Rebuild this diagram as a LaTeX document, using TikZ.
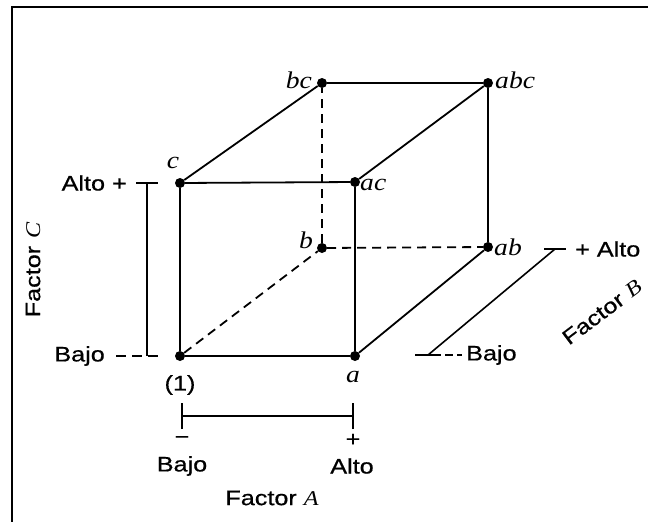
\documentclass[tikz,border=0pt]{standalone}
\usepackage{fontspec}
\setmainfont{Liberation Serif}[FakeStretch=1.15]
\setsansfont{Liberation Sans}[FakeStretch=1.2, FakeBold=0.6]
\usetikzlibrary{positioning}

\begin{document}
\begin{tikzpicture}[x=1pt, y=-1pt,
  every node/.style={font=\sffamily\fontsize{21}{23}\selectfont, inner sep=0pt},
  arista/.style={line width=1.8pt},
  oculta/.style={line width=1.8pt, dash pattern=on 9pt off 6pt},
  escala/.style={line width=1.6pt},
  vertice/.style={circle, fill=black, minimum size=10pt, inner sep=0pt},
  etiq/.style={font=\rmfamily\itshape\fontsize{24}{26}\selectfont}]
  \useasboundingbox (0,0) rectangle (648,522);

  % Marco
  \draw[line width=2pt] (12,7) rectangle (662,540);

  % Vertices del cubo
  \node[vertice] (v1)  at (180,356) {};
  \node[vertice] (va)  at (355,356) {};
  \node[vertice] (vc)  at (180,183) {};
  \node[vertice] (vac) at (355,182) {};
  \node[vertice] (vb)  at (322,248) {};
  \node[vertice] (vab) at (488,247) {};
  \node[vertice] (vbc) at (322,83) {};
  \node[vertice] (vabc) at (488,83) {};

  % Aristas visibles
  \draw[arista] (v1) -- (va);
  \draw[arista] (v1) -- (vc);
  \draw[arista] (vc) -- (vac);
  \draw[arista] (va) -- (vac);
  \draw[arista] (vc) -- (vbc);
  \draw[arista] (vbc) -- (vabc);
  \draw[arista] (vac) -- (vabc);
  \draw[arista] (vabc) -- (vab);
  \draw[arista] (va) -- (vab);

  % Aristas ocultas
  \draw[oculta] (v1) -- (vb);
  \draw[oculta] (vb) -- (vbc);
  \draw[oculta] (vb) -- (vab);

  % Etiquetas de los tratamientos
  \node[etiq, anchor=east] (lbc) at (312,80) {bc};
  \node[etiq, anchor=west] (labc) at (495,80) {abc};
  \node[etiq] (lc) at (173,163) {c};
  \node[etiq, anchor=west] (lac) at (360,185) {ac};
  \node[etiq, anchor=east] (lb) at (313,240) {b};
  \node[etiq, anchor=west] (lab) at (494,247) {ab};
  \node (l1) at (180,385) {(1)};
  \node[etiq] (la) at (353,377) {a};

  % Factor C
  \coordinate (cAlto) at (147,183);
  \coordinate (cBajo) at (147,356);
  \draw[escala] (cAlto) -- (cBajo);
  \draw[escala] ([xshift=-11pt]cAlto) -- ([xshift=11pt]cAlto);
  \node[anchor=east] (altoC) at (127,183) {Alto +};
  \node[anchor=east] (bajoC) at (105,356) {Bajo};
  \coordinate (cGuion) at (116,356);
  \draw[escala, dash pattern=on 10pt off 6pt] (cGuion) -- ([xshift=11pt]cBajo);
  \node[rotate=90] (factorC) at (33,270) {Factor {\rmfamily\itshape C}};

  % Factor A
  \coordinate (aBajo) at (182,416);
  \coordinate (aAlto) at (353,416);
  \draw[escala] (aBajo) -- (aAlto);
  \draw[escala] ([yshift=-13pt]aBajo) -- ([yshift=13pt]aBajo);
  \draw[escala] ([yshift=-13pt]aAlto) -- ([yshift=13pt]aAlto);
  \node (menosA) at (182,440) {−};
  \node (masA) at (353,440) {+};
  \node (bajoA) at (182,466) {Bajo};
  \node (altoA) at (352,466) {Alto};
  \node (factorA) at (272,498) {Factor {\rmfamily\itshape A}};

  % Factor B
  \coordinate (bBajo) at (428,355);
  \coordinate (bAlto) at (555,249);
  \draw[escala] (bBajo) -- (bAlto);
  \draw[escala] ([xshift=-11pt]bAlto) -- ([xshift=11pt]bAlto);
  \draw[escala] ([xshift=-13pt]bBajo) -- ([xshift=13pt]bBajo);
  \coordinate (bGuion) at (462,355);
  \draw[escala, dash pattern=on 8pt off 4pt] ([xshift=17pt]bBajo) -- (bGuion);
  \node[anchor=west] (altoB) at (575,249) {+ Alto};
  \node[anchor=west] (bajoB) at (466,355) {Bajo};
  \node[rotate=37] (factorB) at (602,312) {Factor {\rmfamily\itshape B}};
\end{tikzpicture}
\end{document}
